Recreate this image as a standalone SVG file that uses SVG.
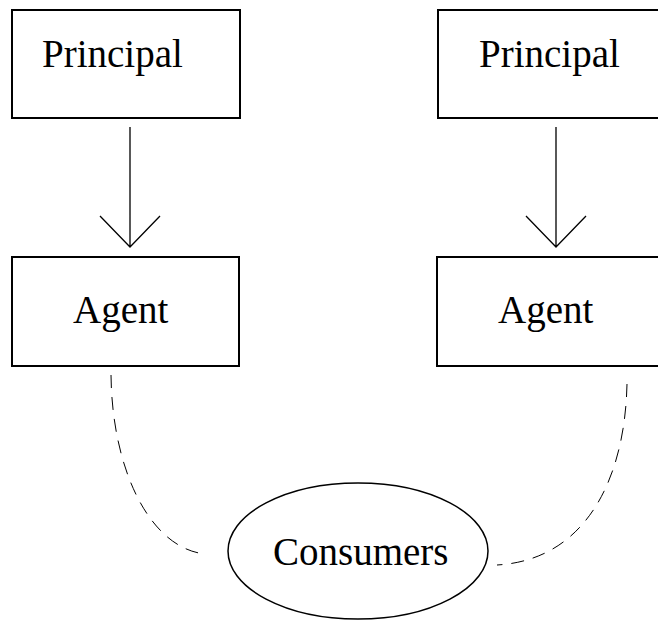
<svg xmlns="http://www.w3.org/2000/svg" width="658" height="623" viewBox="0 0 658 623">
<style>
.box{fill:#fff;stroke:#000;stroke-width:2}
.lbl{font-family:"Liberation Serif","Times New Roman",serif;font-size:39px;fill:#000}
.arrow{fill:none;stroke:#000;stroke-width:1.3}
.dash{fill:none;stroke:#000;stroke-width:1;stroke-dasharray:13 9}
</style>
<rect width="658" height="623" fill="#fff"/>
<g id="principal1"><rect class="box" x="12" y="10" width="228" height="108"/><text class="lbl" x="42" y="67">Principal</text></g>
<g id="principal2"><rect class="box" x="438" y="10" width="240" height="108"/><text class="lbl" x="479" y="67">Principal</text></g>
<g id="agent1"><rect class="box" x="12" y="257" width="227" height="109"/><text class="lbl" x="73" y="323">Agent</text></g>
<g id="agent2"><rect class="box" x="437" y="257" width="240" height="109"/><text class="lbl" x="498" y="323">Agent</text></g>
<g id="consumers"><ellipse cx="358" cy="551" rx="130" ry="68" fill="#fff" stroke="#000" stroke-width="1.5"/><text class="lbl" x="273" y="565">Consumers</text></g>
<g id="connectors">
<path class="arrow" d="M130,127 V247 M100,216 L130,247 L160,216"/>
<path class="arrow" d="M556,127 V247 M526,216 L556,247 L586,216"/>
<path class="dash" d="M111,375 C112,470 150,548 205,554"/>
<path class="dash" d="M627,384 C625,480 585,560 497,565"/>
</g>
</svg>
